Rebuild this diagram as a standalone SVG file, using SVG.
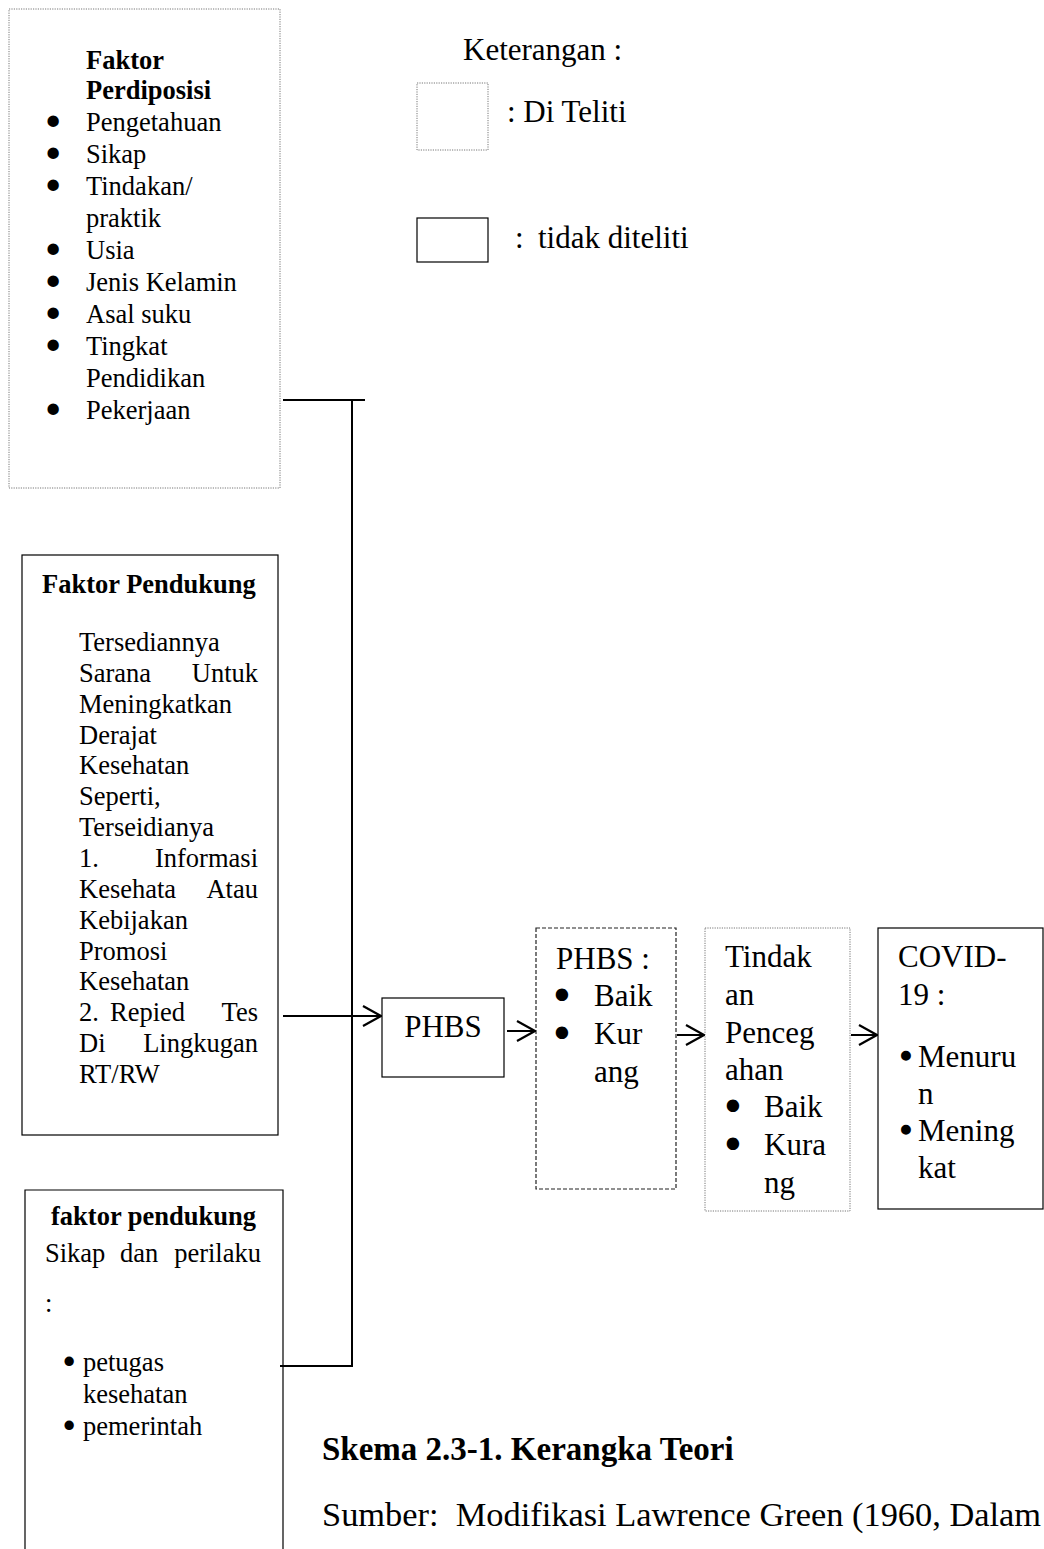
<svg xmlns="http://www.w3.org/2000/svg" width="1044" height="1549" viewBox="0 0 1044 1549">
<style>
text{font-family:"Liberation Serif","Times New Roman",serif;fill:#000}
.s{font-size:26.5px}
.b{font-weight:bold}
.m{font-size:31px}
.bul{stroke:#000;stroke-linejoin:round}
.bl{font-size:26.5px;stroke-width:5}
.br{font-size:31px;stroke-width:5}
.bs{font-size:26.5px;stroke-width:3}
.bc{font-size:31px;stroke-width:2.5}
.dot{fill:none;stroke:#777;stroke-width:1;stroke-dasharray:1.2 1.2}
.dash{fill:none;stroke:#222;stroke-width:1.2;stroke-dasharray:4 2}
.solid{fill:none;stroke:#000;stroke-width:1.2}
.ln{fill:none;stroke:#000;stroke-width:2}
</style>
<defs>
<marker id="chev" viewBox="0 0 20 22" refX="19" refY="11" markerWidth="20" markerHeight="22" markerUnits="userSpaceOnUse" orient="auto">
<path d="M1,1 L19,11 L1,21" fill="none" stroke="#000" stroke-width="2.2"/>
</marker>
</defs>
<rect width="1044" height="1549" fill="#fff"/>

<g id="legend">
<text class="m" x="463" y="60">Keterangan :</text>
<rect class="dot" x="417" y="83" width="71" height="67"/>
<text class="m" x="507" y="122">: Di Teliti</text>
<rect class="solid" x="417" y="218" width="71" height="44"/>
<text class="m" x="515" y="248">:</text>
<text class="m" x="538" y="248">tidak diteliti</text>
</g>

<g id="faktor-perdiposisi">
<rect class="dot" x="9" y="9" width="271" height="479"/>
<text class="s b" x="86" y="69">Faktor</text>
<text class="s b" x="86" y="99">Perdiposisi</text>
<g class="bul bl">
<text x="48.5" y="131">•</text>
<text x="48.5" y="163">•</text>
<text x="48.5" y="195">•</text>
<text x="48.5" y="259">•</text>
<text x="48.5" y="291">•</text>
<text x="48.5" y="323">•</text>
<text x="48.5" y="355">•</text>
<text x="48.5" y="419">•</text>
</g>
<g class="s">
<text x="86" y="131">Pengetahuan</text>
<text x="86" y="163">Sikap</text>
<text x="86" y="195">Tindakan/</text>
<text x="86" y="227">praktik</text>
<text x="86" y="259">Usia</text>
<text x="86" y="291">Jenis Kelamin</text>
<text x="86" y="323">Asal suku</text>
<text x="86" y="355">Tingkat</text>
<text x="86" y="387">Pendidikan</text>
<text x="86" y="419">Pekerjaan</text>
</g>
</g>

<g id="faktor-pendukung">
<rect class="solid" x="22" y="555" width="256" height="580"/>
<text class="s b" x="42" y="593">Faktor Pendukung</text>
<g class="s">
<text x="79" y="651">Tersediannya</text>
<text x="79" y="682">Sarana</text><text x="258" y="682" text-anchor="end">Untuk</text>
<text x="79" y="713">Meningkatkan</text>
<text x="79" y="744">Derajat</text>
<text x="79" y="774">Kesehatan</text>
<text x="79" y="805">Seperti,</text>
<text x="79" y="836">Terseidianya</text>
<text x="79" y="867">1.</text><text x="258" y="867" text-anchor="end">Informasi</text>
<text x="79" y="898">Kesehata</text><text x="258" y="898" text-anchor="end">Atau</text>
<text x="79" y="929">Kebijakan</text>
<text x="79" y="960">Promosi</text>
<text x="79" y="990">Kesehatan</text>
<text x="79" y="1021">2.</text><text x="110" y="1021">Repied</text><text x="258" y="1021" text-anchor="end">Tes</text>
<text x="79" y="1052">Di</text><text x="258" y="1052" text-anchor="end">Lingkugan</text>
<text x="79" y="1083">RT/RW</text>
</g>
</g>

<g id="faktor-pendukung-2">
<path class="solid" d="M25,1549 L25,1190 L283,1190 L283,1549"/>
<text class="s b" x="51" y="1225">faktor pendukung</text>
<g class="s">
<text x="45" y="1262">Sikap</text><text x="120" y="1262">dan</text><text x="261" y="1262" text-anchor="end">perilaku</text>
<text x="45" y="1312">:</text>
<text x="83" y="1371">petugas</text>
<text x="83" y="1403">kesehatan</text>
<text x="83" y="1435">pemerintah</text>
</g>
<g class="bul bs">
<text x="64.4" y="1371">•</text>
<text x="64.4" y="1435">•</text>
</g>
</g>

<g id="phbs">
<rect class="solid" x="382" y="998" width="122" height="79"/>
<text class="m" x="443" y="1037" text-anchor="middle">PHBS</text>
</g>

<g id="phbs-kategori">
<rect class="dash" x="536" y="928" width="140" height="261"/>
<g class="m">
<text x="556" y="969">PHBS :</text>
<text x="594" y="1006">Baik</text>
<text x="594" y="1044">Kur</text>
<text x="594" y="1082">ang</text>
</g>
<g class="bul br">
<text x="556.5" y="1006">•</text>
<text x="556.5" y="1044">•</text>
</g>
</g>

<g id="tindakan-pencegahan">
<rect class="dot" x="705" y="928" width="145" height="283"/>
<g class="m">
<text x="725" y="967">Tindak</text>
<text x="725" y="1005">an</text>
<text x="725" y="1043">Penceg</text>
<text x="725" y="1080">ahan</text>
<text x="764" y="1117">Baik</text>
<text x="764" y="1155">Kura</text>
<text x="764" y="1193">ng</text>
</g>
<g class="bul br">
<text x="727.5" y="1117">•</text>
<text x="727.5" y="1155">•</text>
</g>
</g>

<g id="covid">
<rect class="solid" x="878" y="928" width="165" height="281"/>
<g class="m">
<text x="898" y="967">COVID-</text>
<text x="898" y="1005">19 :</text>
<text x="918" y="1067">Menuru</text>
<text x="918" y="1104">n</text>
<text x="918" y="1141">Mening</text>
<text x="918" y="1178">kat</text>
</g>
<g class="bul bc">
<text x="900.5" y="1067">•</text>
<text x="900.5" y="1141">•</text>
</g>
</g>

<g id="connectors">
<line class="ln" x1="283" y1="400" x2="365" y2="400"/>
<line class="ln" x1="352" y1="400" x2="352" y2="1367"/>
<line class="ln" x1="280" y1="1366" x2="353" y2="1366"/>
<line class="ln" x1="283" y1="1016" x2="381" y2="1016" marker-end="url(#chev)"/>
<line class="ln" x1="507" y1="1031" x2="535" y2="1031" marker-end="url(#chev)"/>
<line class="ln" x1="677" y1="1035" x2="704" y2="1035" marker-end="url(#chev)"/>
<line class="ln" x1="851" y1="1035" x2="877" y2="1035" marker-end="url(#chev)"/>
</g>

<g id="caption">
<text class="b" style="font-size:33px" x="322" y="1460">Skema 2.3-1. Kerangka Teori</text>
<text style="font-size:34.4px" x="322" y="1526" xml:space="preserve">Sumber:  Modifikasi Lawrence Green (1960, Dalam</text>
</g>
</svg>
